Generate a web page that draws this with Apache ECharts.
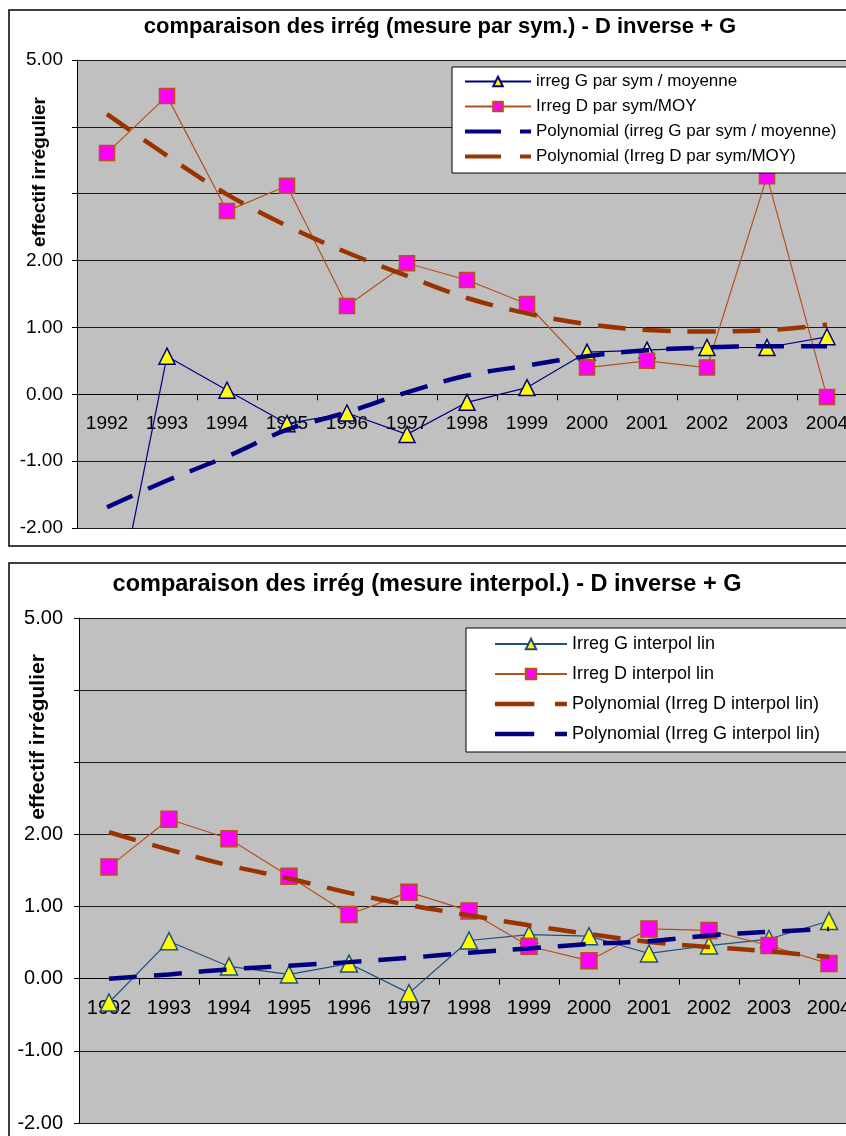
<!DOCTYPE html>
<html>
<head>
<meta charset="utf-8">
<script src="https://cdn.jsdelivr.net/npm/echarts@6/dist/echarts.min.js"></script>
<style>
html,body{margin:0;padding:0;background:#fff;}
#c{width:846px;height:1136px;}
</style>
</head>
<body>
<div id="c"></div>
<script>
// ---- data ----
const years = ['1992','1993','1994','1995','1996','1997','1998','1999','2000','2001','2002','2003','2004'];
const yTicks = [-2, -1, 0, 1, 2, 3, 4, 5];

// chart 1 : mesure par sym.
const gSym      = [-3.9, 0.57, 0.06, -0.44, -0.28, -0.60, -0.12, 0.10, 0.63, 0.66, 0.70, 0.70, 0.86];
const dSym      = [3.61, 4.46, 2.74, 3.12, 1.32, 1.96, 1.71, 1.35, 0.40, 0.50, 0.40, 3.26, -0.04];
const gSymTrend = [-1.69, -1.29, -0.93, -0.53, -0.27, 0.03, 0.28, 0.43, 0.57, 0.66, 0.70, 0.72, 0.72];
const dSymTrend = [4.19, 3.57, 2.99, 2.52, 2.12, 1.77, 1.44, 1.21, 1.05, 0.96, 0.94, 0.96, 1.04];

// chart 2 : mesure interpol.
const gInt      = [-0.33, 0.52, 0.17, 0.06, 0.21, -0.20, 0.53, 0.61, 0.59, 0.35, 0.46, 0.55, 0.80];
const dInt      = [1.55, 2.21, 1.94, 1.42, 0.89, 1.20, 0.94, 0.45, 0.25, 0.69, 0.67, 0.46, 0.21];
const dIntTrend = [2.03, 1.79, 1.57, 1.39, 1.19, 1.02, 0.88, 0.74, 0.62, 0.51, 0.44, 0.38, 0.30];
const gIntTrend = [0.00, 0.06, 0.13, 0.18, 0.23, 0.29, 0.36, 0.42, 0.48, 0.52, 0.60, 0.65, 0.69];

const names1 = ['irreg G par sym / moyenne', 'Irreg D par sym/MOY',
  'Polynomial (irreg G par sym / moyenne)', 'Polynomial (Irreg D par sym/MOY)'];
const names2 = ['Irreg G interpol lin', 'Irreg D interpol lin',
  'Polynomial (Irreg D interpol lin)', 'Polynomial (Irreg G interpol lin)'];

const title1 = 'comparaison des irrég (mesure par sym.) - D inverse + G';
const title2 = 'comparaison des irrég (mesure interpol.) - D inverse + G';
const yName = 'effectif irrégulier';

// ---- layout / styles ----
const FONT = 'Liberation Sans, Arial, sans-serif';
const NAVY = '#000080';
const BROWN = '#993300';
const DLINE = '#b5501c';
const GLINE2 = '#1f4f7f';
const DASH = [28, 17];
const DASH_ICON = 'path://M0,0H36V4H0Z M55,0H66V4H55Z';

const G1 = {left: 77, top: 60, width: 780, height: 468};
const G2 = {left: 79, top: 618, width: 780, height: 505};
const yMin = yTicks[0], yMax = yTicks[yTicks.length - 1];
// shift of the category axis from the grid bottom up to the value 0
const zeroShift = g => -g.height * (0 - yMin) / (yMax - yMin);

const chart = echarts.init(document.getElementById('c'), null, {renderer: 'canvas'});

function xAxisCfg(gi, g, fs, margin) {
  return {
    type: 'category', gridIndex: gi, data: years, boundaryGap: true, position: 'bottom',
    offset: zeroShift(g),
    axisLine: {show: true, onZero: false, lineStyle: {color: '#000', width: 1}},
    axisTick: {show: true, length: 6, inside: false, lineStyle: {color: '#000'}},
    axisLabel: {show: true, color: '#000', fontSize: fs, fontFamily: FONT, margin: margin, interval: 0, hideOverlap: false},
    splitLine: {show: false}
  };
}
function yAxisCfg(gi, fs, margin) {
  return {
    type: 'value', gridIndex: gi, min: yMin, max: yMax, interval: 1,
    axisLine: {show: true, lineStyle: {color: '#000', width: 1}},
    axisTick: {show: true, length: 5, inside: false, lineStyle: {color: '#000'}},
    axisLabel: {color: '#000', fontSize: fs, fontFamily: FONT, margin: margin,
      formatter: v => (v === 3 || v === 4) ? '' : v.toFixed(2)},
    splitLine: {show: true, lineStyle: {color: '#1a1a1a', width: 1}}
  };
}
function dataSeries(name, gi, data, lineColor, symbol, size, fill, border, z) {
  return {
    name, type: 'line', xAxisIndex: gi, yAxisIndex: gi, data,
    symbol, symbolSize: size, showSymbol: true, clip: true, z,
    lineStyle: {color: lineColor, width: 1.2},
    itemStyle: {color: fill, borderColor: border, borderWidth: 1.5},
    emphasis: {disabled: true}
  };
}
function trendSeries(name, gi, data, color, z) {
  return {
    name, type: 'line', xAxisIndex: gi, yAxisIndex: gi, data,
    symbol: 'none', smooth: 0.35, clip: true, z,
    lineStyle: {color, width: 4.5, type: DASH, cap: 'butt'},
    itemStyle: {color},
    emphasis: {disabled: true}
  };
}
function legendData(names) {
  return names.map(n => n.indexOf('Polynomial') === 0 ? {name: n, icon: DASH_ICON} : {name: n});
}

const option = {
  animation: false,
  backgroundColor: '#fff',
  grid: [
    Object.assign({show: true, backgroundColor: '#c0c0c0', borderWidth: 0, containLabel: false, outerBoundsMode: 'none'}, G1),
    Object.assign({show: true, backgroundColor: '#c0c0c0', borderWidth: 0, containLabel: false, outerBoundsMode: 'none'}, G2)
  ],
  xAxis: [xAxisCfg(0, G1, 19, 20), xAxisCfg(1, G2, 20, 20)],
  yAxis: [yAxisCfg(0, 19, 14), yAxisCfg(1, 20, 16)],
  legend: [
    {
      orient: 'vertical', left: 452, top: 67, align: 'left',
      data: legendData(names1), selectedMode: false,
      backgroundColor: '#fff', borderColor: '#000', borderWidth: 1,
      padding: [6, 40, 8, 12],
      itemWidth: 66, itemHeight: 12, itemGap: 8,
      textStyle: {color: '#000', fontSize: 17, fontFamily: FONT, lineHeight: 17}
    },
    {
      orient: 'vertical', left: 466, top: 628, align: 'left',
      data: legendData(names2), selectedMode: false,
      backgroundColor: '#fff', borderColor: '#000', borderWidth: 1,
      padding: [7, 40, 9, 28],
      itemWidth: 72, itemHeight: 13, itemGap: 12,
      textStyle: {color: '#000', fontSize: 18, fontFamily: FONT, lineHeight: 18}
    }
  ],
  graphic: [
    {type: 'rect', z: 100, silent: true, shape: {x: 9, y: 10, width: 900, height: 536},
      style: {fill: 'none', stroke: '#000', lineWidth: 1.5}},
    {type: 'rect', z: 100, silent: true, shape: {x: 9, y: 563, width: 900, height: 620},
      style: {fill: 'none', stroke: '#000', lineWidth: 1.5}},
    {type: 'text', z: 100, silent: true, x: 440, y: 27,
      style: {text: title1, font: 'bold 22px ' + FONT, fill: '#000', align: 'center', verticalAlign: 'middle'}},
    {type: 'text', z: 100, silent: true, x: 427, y: 585,
      style: {text: title2, font: 'bold 23.5px ' + FONT, fill: '#000', align: 'center', verticalAlign: 'middle'}},
    {type: 'text', z: 100, silent: true, x: 40, y: 172, rotation: Math.PI / 2,
      style: {text: yName, font: 'bold 19px ' + FONT, fill: '#000', align: 'center', verticalAlign: 'middle'}},
    {type: 'text', z: 100, silent: true, x: 38, y: 737, rotation: Math.PI / 2,
      style: {text: yName, font: 'bold 21px ' + FONT, fill: '#000', align: 'center', verticalAlign: 'middle'}}
  ],
  series: [
    dataSeries(names1[0], 0, gSym, NAVY, 'triangle', 16, '#ffff00', NAVY, 3),
    dataSeries(names1[1], 0, dSym, DLINE, 'rect', 15, '#ff00ff', DLINE, 3),
    trendSeries(names1[2], 0, gSymTrend, NAVY, 5),
    trendSeries(names1[3], 0, dSymTrend, BROWN, 5),
    dataSeries(names2[0], 1, gInt, GLINE2, 'triangle', 17, '#ffff00', GLINE2, 3),
    dataSeries(names2[1], 1, dInt, DLINE, 'rect', 16, '#ff00ff', DLINE, 3),
    trendSeries(names2[2], 1, dIntTrend, BROWN, 5),
    trendSeries(names2[3], 1, gIntTrend, NAVY, 5)
  ]
};
chart.setOption(option);
</script>
</body>
</html>
